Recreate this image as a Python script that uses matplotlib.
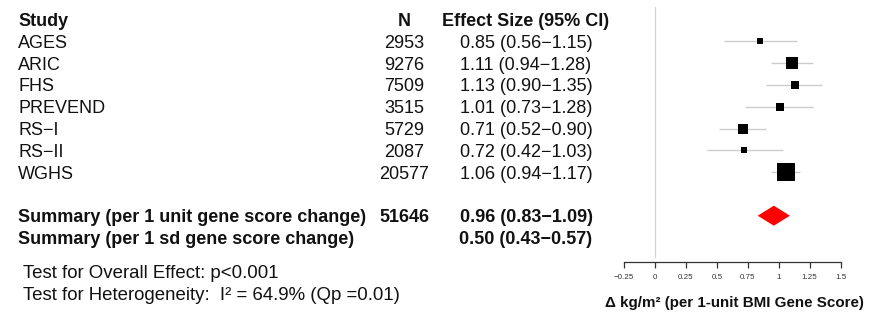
import matplotlib
matplotlib.use("Agg")
import matplotlib.pyplot as plt
import matplotlib.transforms as mtransforms
import numpy as np

plt.rcParams["font.family"] = ["Liberation Sans", "DejaVu Sans"]

# Study-level data
studies = ["AGES", "ARIC", "FHS", "PREVEND", "RS\u2212I", "RS\u2212II", "WGHS"]
n_subjects = [2953, 9276, 7509, 3515, 5729, 2087, 20577]
effect = [0.85, 1.11, 1.13, 1.01, 0.71, 0.72, 1.06]
ci_low = [0.56, 0.94, 0.90, 0.73, 0.52, 0.42, 0.94]
ci_high = [1.15, 1.28, 1.35, 1.28, 0.90, 1.03, 1.17]

# Pooled estimates
summary_labels = ["Summary (per 1 unit gene score change)",
                  "Summary (per 1 sd gene score change)"]
summary_n = ["51646", ""]
summary_effect = [0.96, 0.50]
summary_low = [0.83, 0.43]
summary_high = [1.09, 0.57]

test_lines = ["Test for Overall Effect: p<0.001",
              "Test for Heterogeneity:  I\u00b2 = 64.9% (Qp =0.01)"]

x_ticks = [-0.25, 0, 0.25, 0.5, 0.75, 1, 1.25, 1.5]
x_ticklabels = ["\u22120.25", "0", "0.25", "0.5", "0.75", "1", "1.25", "1.5"]
x_label = "\u0394 kg/m\u00b2 (per 1-unit BMI Gene Score)"

W, H = 869, 336
DPI = 100
fig = plt.figure(figsize=(W / DPI, H / DPI), dpi=DPI)

# Forest panel: x from -0.25 to 1.5, rows downward
x0_px, x1_px = 624.0, 840.7
y_top_px, y_axis_px = 7.0, 261.5
row0_px, row_step = 19.5, 21.8
ax = fig.add_axes([x0_px / W, 1 - y_axis_px / H,
                   (x1_px - x0_px) / W, (y_axis_px - y_top_px) / H])
ax.set_xlim(-0.25, 1.5)
r_top = (y_top_px - row0_px) / row_step
r_bot = (y_axis_px - row0_px) / row_step
ax.set_ylim(r_bot, r_top)

for s in ["top", "right", "left"]:
    ax.spines[s].set_visible(False)
ax.spines["bottom"].set_color("#333333")
ax.spines["bottom"].set_linewidth(0.9)
ax.set_yticks([])
ax.set_xticks(x_ticks)
ax.set_xticklabels(x_ticklabels, fontsize=5.8, color="#333333")
ax.tick_params(axis="x", direction="out", length=4, width=0.9,
               color="#333333", pad=5)
ax.patch.set_alpha(0)

# Null line
r_line_end = (257.0 - row0_px) / row_step
ax.plot([0, 0], [r_top, r_line_end], color="#d4d4d4", lw=0.9,
        clip_on=False, zorder=1)

rows = np.arange(1, len(studies) + 1)

# Confidence intervals and weight-scaled boxes
for r, e, lo, hi in zip(rows, effect, ci_low, ci_high):
    ax.plot([lo, hi], [r, r], color="#cccccc", lw=1.0, zorder=2,
            solid_capstyle="butt")
    se = (hi - lo) / 3.92
    side_px = 1.02 / se
    ax.plot(e, r, marker="s", color="black", markersize=side_px * 72 / DPI,
            markeredgewidth=0, zorder=3, linestyle="none")

# Pooled diamond
r_sum = len(studies) + 2
half_h = 10.0 / row_step
e, lo, hi = summary_effect[0], summary_low[0], summary_high[0]
ax.fill([lo, e, hi, e], [r_sum, r_sum - half_h, r_sum, r_sum + half_h],
        color="#ff0000", lw=0, zorder=3)

# Table text, rows aligned with the forest panel
tr = mtransforms.blended_transform_factory(fig.transFigure, ax.transData)
FS = 13.0
col_study = 18 / W
col_n = 404 / W
col_es = 526 / W

def row_text(x, r, s, **kw):
    fig.text(x, r, s, transform=tr, fontsize=FS, va="center_baseline",
             color="#111111", **kw)

row_text(col_study, 0, "Study", ha="left", fontweight="bold")
row_text(col_n, 0, "N", ha="center", fontweight="bold")
row_text(col_es, 0, "Effect Size (95% CI)", ha="center", fontweight="bold")

for r, name, n, e, lo, hi in zip(rows, studies, n_subjects, effect, ci_low, ci_high):
    row_text(col_study, r, name, ha="left")
    row_text(col_n, r, str(n), ha="center")
    row_text(col_es, r, f"{e:.2f} ({lo:.2f}\u2212{hi:.2f})", ha="center")

for i, (lab, n, e, lo, hi) in enumerate(zip(summary_labels, summary_n,
                                             summary_effect, summary_low,
                                             summary_high)):
    r = r_sum + i
    row_text(col_study, r, lab, ha="left", fontweight="bold")
    if n:
        row_text(col_n, r, n, ha="center", fontweight="bold")
    row_text(col_es, r, f"{e:.2f} ({lo:.2f}\u2212{hi:.2f})", ha="center",
             fontweight="bold")

# Test statistics
for y_px, s in zip([271.7, 293.3], test_lines):
    fig.text(23 / W, 1 - y_px / H, s, fontsize=13.4, va="center_baseline",
             ha="left", color="#111111")

# Axis title
fig.text(734 / W, 1 - 301 / H, x_label, fontsize=10.9, fontweight="bold",
         ha="center", va="center_baseline", color="#111111")

fig.savefig("out.png", dpi=DPI)
